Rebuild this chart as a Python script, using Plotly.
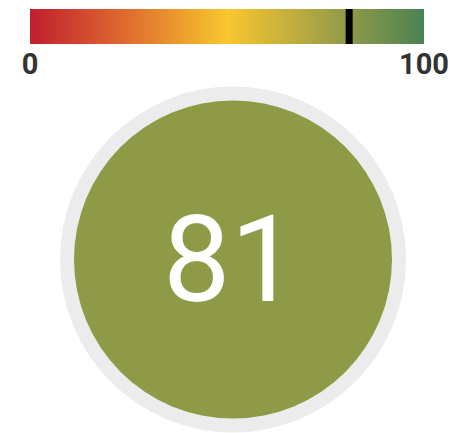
import plotly.graph_objects as go

# data
scale_min = 0
scale_max = 100
score = 81
tick_vals = [0, 100]
tick_text = ["0", "100"]

W, H = 466, 433
OFF = 8  # page body margin
colorscale = [
    [0.0, "#c01f2f"],
    [0.25, "#df6e2f"],
    [0.5, "#f8c72e"],
    [0.75, "#a3a145"],
    [1.0, "#4b8253"],
]

fig = go.Figure()

# gradient bar
fig.add_trace(go.Heatmap(
    x=[scale_min, scale_max], y=[0, 1],
    z=[[scale_min, scale_max], [scale_min, scale_max]],
    zmin=scale_min, zmax=scale_max,
    colorscale=colorscale, zsmooth="best", showscale=False,
    hoverinfo="skip", xaxis="x", yaxis="y",
))
# value marker
fig.add_trace(go.Scatter(
    x=[score, score], y=[0, 1], mode="lines",
    line=dict(color="#000000", width=7),
    hoverinfo="skip", xaxis="x", yaxis="y", showlegend=False,
))

# circle (ring + fill + value)
cx, cy = 233 - OFF, 259.5 - OFF
fig.add_trace(go.Scatter(
    x=[cx], y=[cy], mode="markers",
    marker=dict(size=346, color="#ececec", line=dict(width=0)),
    hoverinfo="skip", xaxis="x2", yaxis="y2", showlegend=False, cliponaxis=False,
))
fig.add_trace(go.Scatter(
    x=[cx], y=[cy], mode="markers",
    marker=dict(size=318, color="#8f9a47", line=dict(width=0)),
    hoverinfo="skip", xaxis="x2", yaxis="y2", showlegend=False, cliponaxis=False,
))
fig.add_annotation(
    x=cx, y=cy, xref="x2", yref="y2", text=str(score), showarrow=False,
    xanchor="center", yanchor="middle", xshift=-3, yshift=0,
    font=dict(family="Roboto", size=120, color="#ffffff"),
)

fig.update_layout(
    width=W, height=H,
    margin=dict(l=0, r=0, t=0, b=0, autoexpand=False),
    paper_bgcolor="#ffffff", plot_bgcolor="rgba(0,0,0,0)",
    showlegend=False,
    xaxis=dict(domain=[(30 - OFF) / W, (424 - OFF) / W], range=[scale_min, scale_max],
               tickvals=tick_vals, ticktext=tick_text, ticks="", automargin=False,
               tickfont=dict(family="Roboto", size=29, color="#333333", weight="bold"),
               showgrid=False, zeroline=False, showline=False, fixedrange=True),
    yaxis=dict(domain=[(H - 44 + OFF) / H, (H - 9 + OFF) / H], range=[0, 1], automargin=False,
               showticklabels=False, showgrid=False, zeroline=False, fixedrange=True),
    xaxis2=dict(domain=[0, 1], range=[0, W], visible=False, anchor="y2", fixedrange=True),
    yaxis2=dict(domain=[0, 1], range=[H, 0], visible=False, anchor="x2", fixedrange=True),
)

fig.write_html("out.html")
